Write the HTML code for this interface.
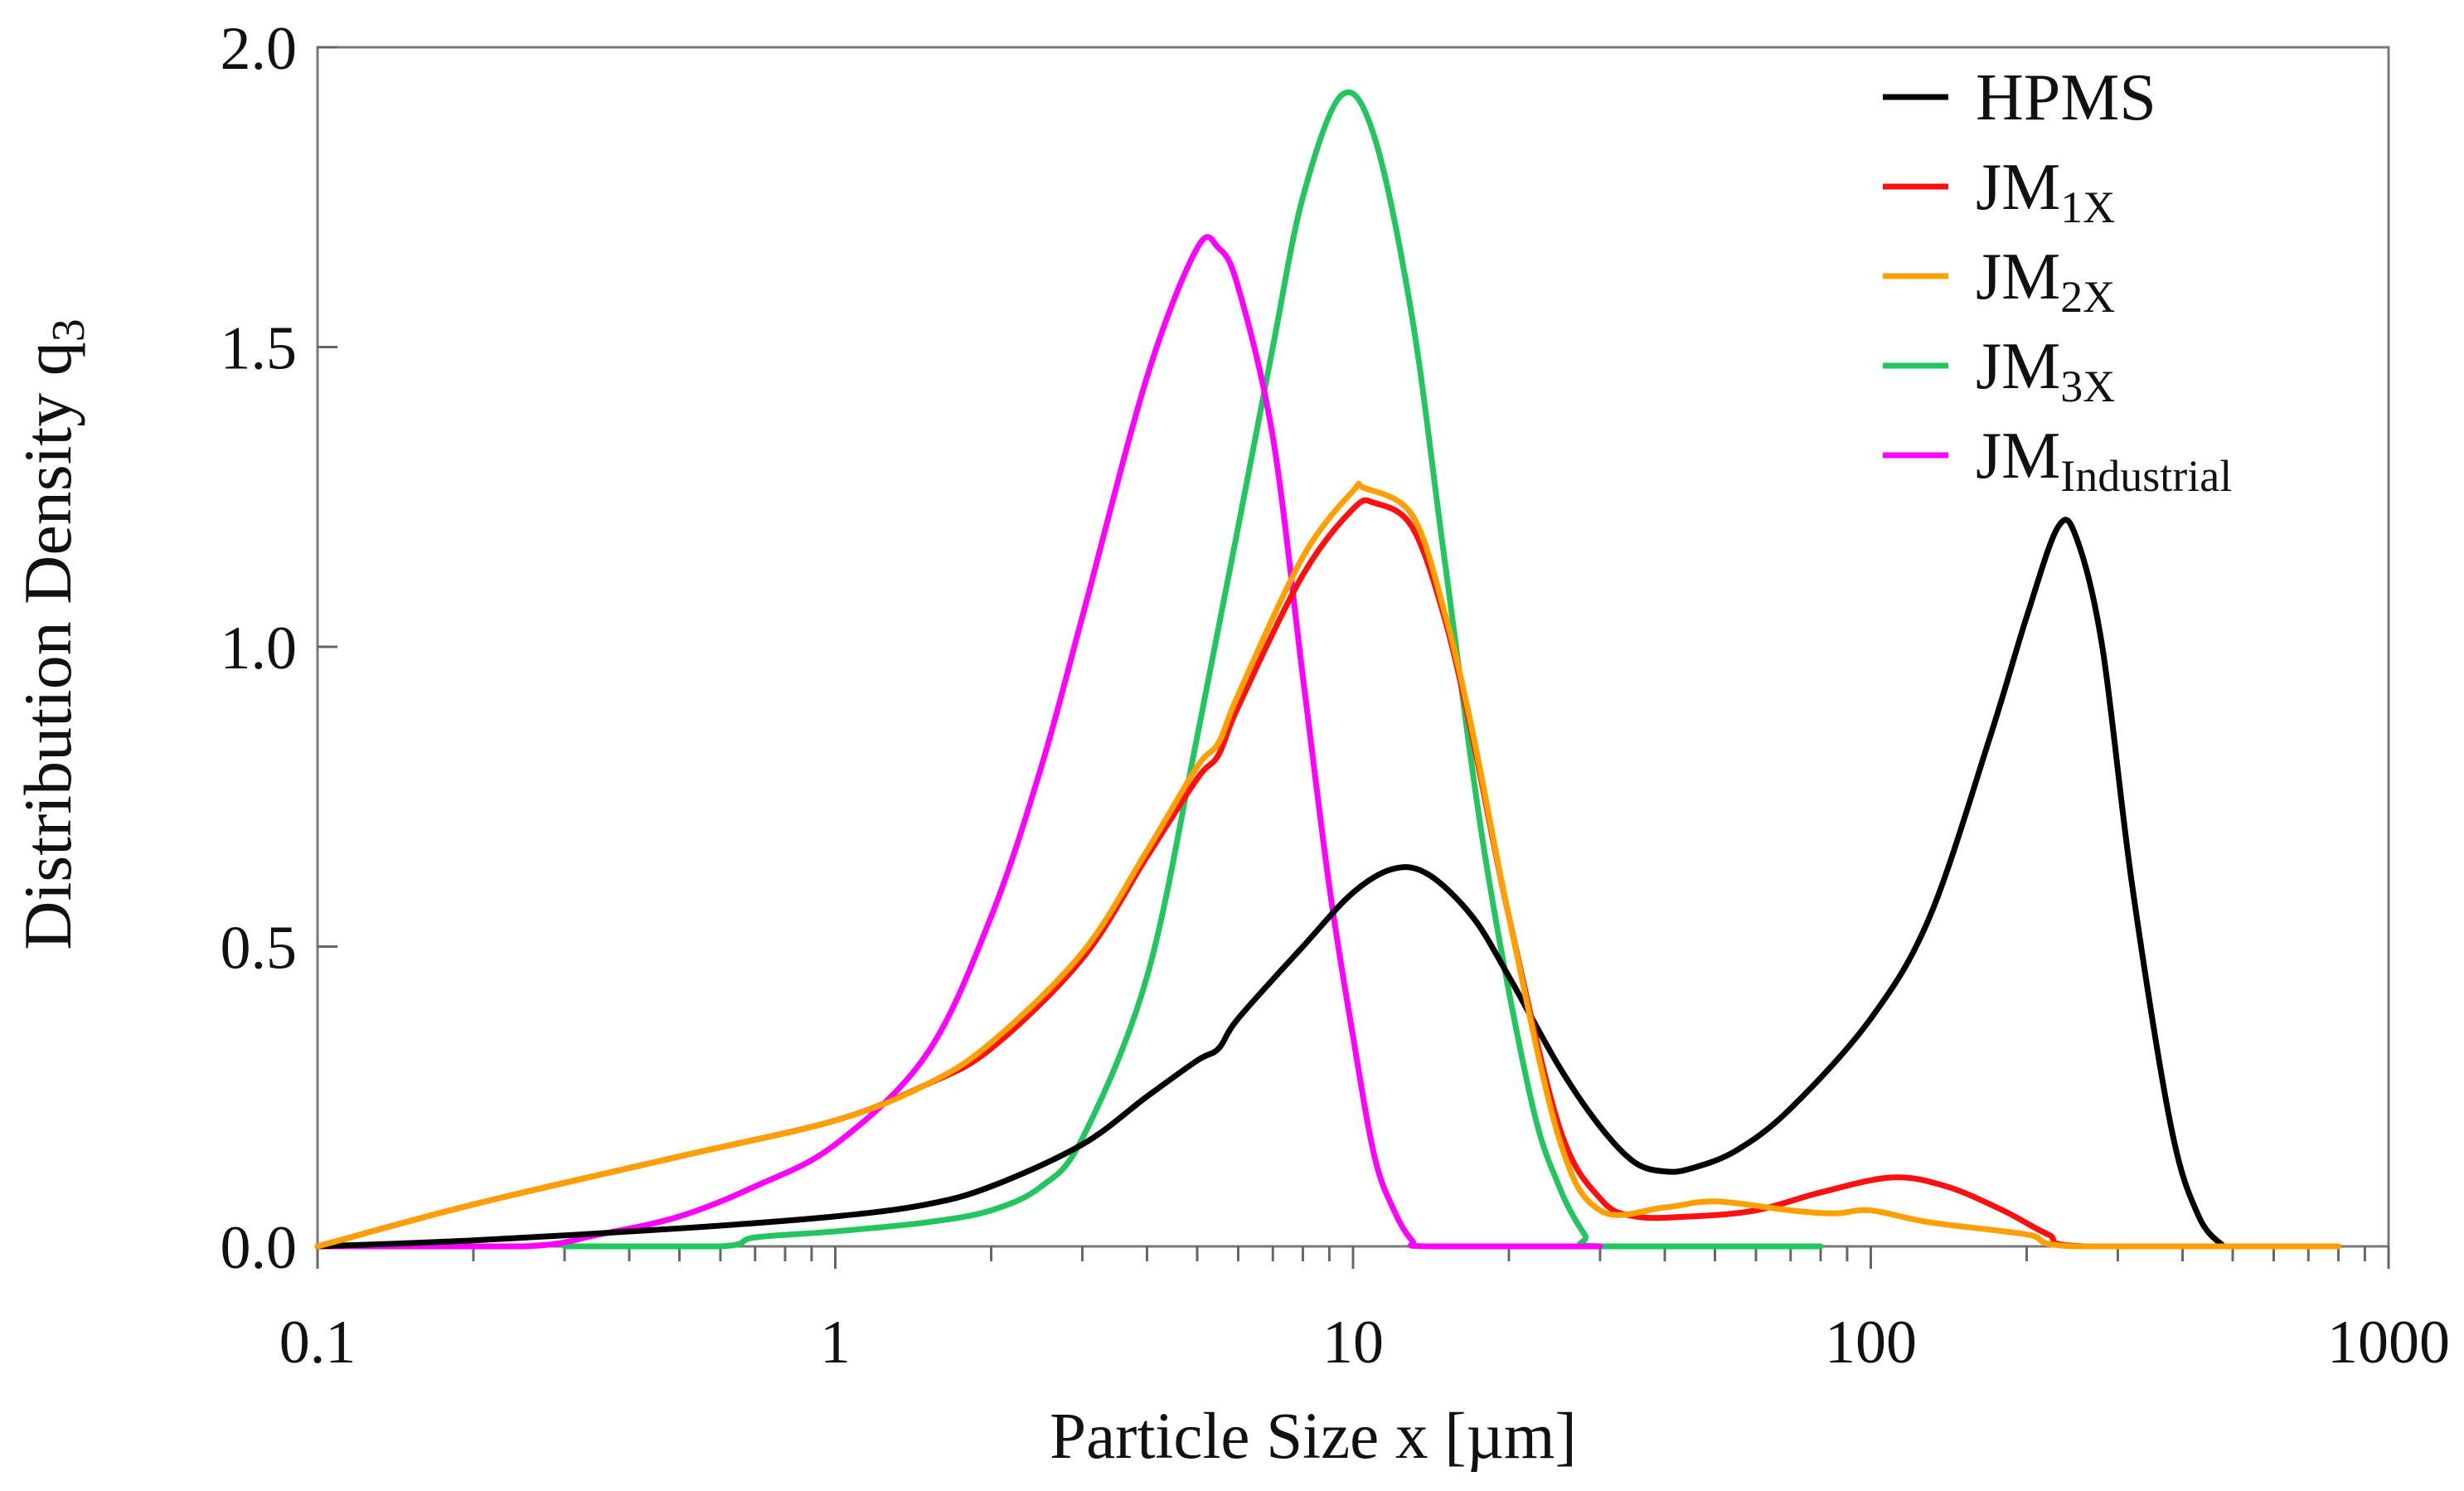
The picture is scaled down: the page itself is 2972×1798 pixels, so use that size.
<!DOCTYPE html>
<html><head><meta charset="utf-8"><style>
html,body{margin:0;padding:0;background:#fff}
svg{display:block}
text{font-family:"Liberation Serif",serif;fill:#111}
</style></head><body>
<svg id="chart" width="2972" height="1798" viewBox="0 0 2972 1798">
<g id="axes"></g><g id="series"></g><g id="legend"></g>
</svg>
<script>
const xTicks=[0.1,1,10,100,1000];
const xTickLabels=["0.1","1","10","100","1000"];
const yTicks=[0,0.5,1.0,1.5,2.0];
const yTickLabels=["0.0","0.5","1.0","1.5","2.0"];
const seriesNames=["HPMS","JM1X","JM2X","JM3X","JMIndustrial"];
const seriesColors=["#000000","#ff1010","#ffa000","#22c55e","#ff00ff"];
const hpmsX=[0.1,0.2,0.5,1,1.5,2,3,4,5,5.5,6,8,10,12,14,17,20,25,30,35,40,45,55,70,100,130,170,200,230,250,280,320,380,430,480];
const hpmsY=[0,0.01,0.03,0.05,0.07,0.1,0.17,0.25,0.31,0.33,0.38,0.5,0.59,0.63,0.62,0.55,0.45,0.3,0.2,0.14,0.125,0.13,0.16,0.23,0.38,0.55,0.85,1.05,1.2,1.18,1.0,0.6,0.2,0.05,0];
const jm1X=[0.1,0.2,0.5,1,1.5,2,3,4,5,5.5,6,8,10,11,13,15,17,20,25,30,35,45,60,80,110,140,180,220,260,800];
const jm1Y=[0,0.07,0.15,0.21,0.27,0.33,0.48,0.65,0.78,0.82,0.9,1.12,1.23,1.24,1.2,1.05,0.85,0.55,0.2,0.08,0.05,0.05,0.06,0.09,0.115,0.1,0.06,0.02,0,0];
const jm2X=[0.1,0.2,0.5,1,1.5,2,3,4,5,5.5,6,8,10,10.5,13,15,17,20,25,30,40,50,70,85,100,130,200,250,800];
const jm2Y=[0,0.07,0.15,0.21,0.27,0.34,0.49,0.66,0.8,0.84,0.92,1.15,1.26,1.265,1.22,1.06,0.86,0.55,0.18,0.06,0.065,0.075,0.06,0.055,0.06,0.04,0.02,0,0];
const jm3X=[0.3,0.6,0.7,1,1.5,2,2.5,3,4,5,6,7,8,9.5,11,13,15,18,22,25,28,30,80];
const jm3Y=[0,0,0.015,0.025,0.04,0.06,0.1,0.18,0.45,0.85,1.2,1.5,1.75,1.92,1.85,1.55,1.15,0.65,0.25,0.1,0.02,0,0];
const jmiX=[0.1,0.25,0.35,0.5,0.7,1,1.5,2,2.5,3,4,5,5.5,6,7,8,9,10,11,12,13,14,30];
const jmiY=[0,0,0.02,0.05,0.1,0.17,0.32,0.55,0.8,1.05,1.45,1.665,1.665,1.6,1.35,0.95,0.6,0.35,0.15,0.06,0.01,0,0];

const L=383,R=2881,T=57,B=1503;
const xs=v=>L+(Math.log10(v)+1)/4*(R-L);
const ys=v=>B-v/2*(B-T);
const NS="http://www.w3.org/2000/svg";
function mk(tag,attrs,parent){const e=document.createElementNS(NS,tag);for(const k in attrs)e.setAttribute(k,attrs[k]);parent.appendChild(e);return e;}
const ax=document.getElementById('axes');
let fr=mk('rect',{x:L,y:T,width:R-L,height:B-T,fill:'none',stroke:'#777','stroke-width':3},ax);


for(let d=-1;d<3;d++){for(let m=2;m<=9;m++){const v=m*Math.pow(10,d);
 let t=mk('line',{x1:xs(v),x2:xs(v),y1:B,y2:B+18,stroke:'#666','stroke-width':3},ax);
 
 }}
xTicks.forEach((v,i)=>{
 let t=mk('line',{x1:xs(v),x2:xs(v),y1:B,y2:B+27,stroke:'#666','stroke-width':3},ax);
 
 
 let tx=mk('text',{x:xs(v),y:B+140,'font-size':74,'text-anchor':'middle'},ax);tx.textContent=xTickLabels[i];
 
 
});
yTicks.forEach((v,i)=>{
 let t=mk('line',{x1:L,x2:L+24,y1:ys(v),y2:ys(v),stroke:'#666','stroke-width':3},ax);
 
 
 let tx=mk('text',{x:L-25,y:ys(v)+26,'font-size':74,'text-anchor':'end'},ax);tx.textContent=yTickLabels[i];
 
 
});
let xt=mk('text',{x:(L+R)/2-48,y:1758,'font-size':79,'text-anchor':'middle'},ax);xt.textContent='Particle Size x [µm]';


let yt=mk('text',{x:0,y:0,'font-size':82,'text-anchor':'middle',transform:'translate(85,765) rotate(-90)'},ax);
yt.innerHTML='Distribution Density q<tspan font-size="56" dy="16">3</tspan>';



function path(X,Y){const p=X.map((x,i)=>[xs(x),ys(Y[i])]);let d='M'+p[0][0]+','+p[0][1];
 for(let i=0;i<p.length-1;i++){const p0=p[i-1]||p[i],p1=p[i],p2=p[i+1],p3=p[i+2]||p2;
  const c1=[p1[0]+(p2[0]-p0[0])/6,p1[1]+(p2[1]-p0[1])/6],c2=[p2[0]-(p3[0]-p1[0])/6,p2[1]-(p3[1]-p1[1])/6];
  d+=`C${c1[0]},${Math.min(B,c1[1])} ${c2[0]},${Math.min(B,c2[1])} ${p2[0]},${p2[1]}`;}return d;}
const sg=document.getElementById('series');
const data=[[hpmsX,hpmsY],[jm1X,jm1Y],[jm2X,jm2Y],[jm3X,jm3Y],[jmiX,jmiY]];
const order=[3,4,0,1,2];
order.forEach(i=>{
 let p=mk('path',{d:path(data[i][0],data[i][1]),fill:'none',stroke:seriesColors[i],'stroke-width':7,'stroke-linejoin':'round','stroke-linecap':'round'},sg);
 
 
});
const lg=document.getElementById('legend');
const subs=["","1X","2X","3X","Industrial"];
seriesNames.forEach((n,i)=>{const y=117+i*108;
 let g=mk('g',{},lg);
 
 
 mk('line',{x1:2271,x2:2350,y1:y,y2:y,stroke:seriesColors[i],'stroke-width':7},g);
 let t=mk('text',{x:2383,y:y+27,'font-size':80},g);
 t.innerHTML=i==0?'HPMS':'JM<tspan font-size="54" dy="16">'+subs[i]+'</tspan>';
});
</script>
</body></html>
